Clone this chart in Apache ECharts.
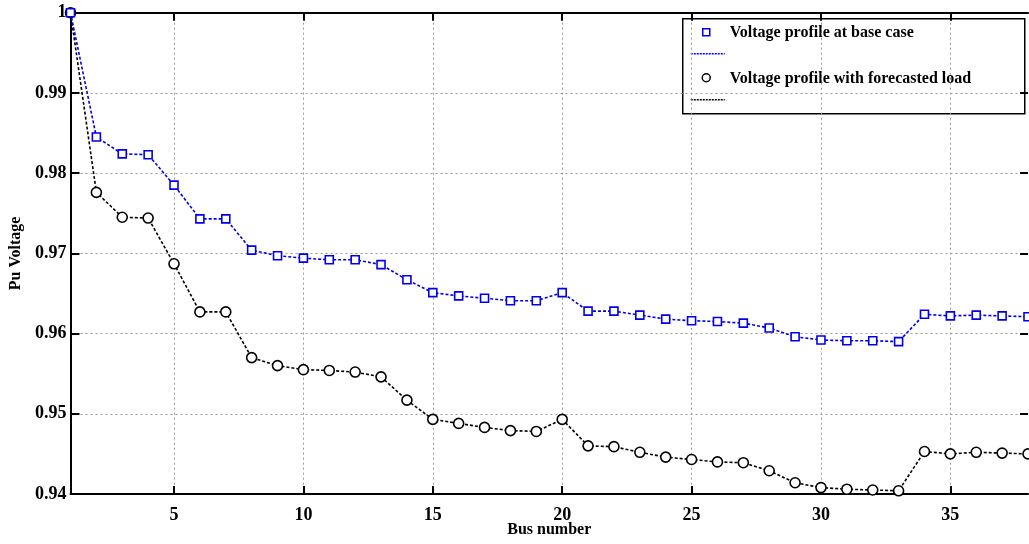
<!DOCTYPE html>
<html>
<head>
<meta charset="utf-8">
<script src="https://cdn.jsdelivr.net/npm/echarts@6/dist/echarts.min.js"></script>
<style>html,body{margin:0;padding:0;background:#fff;}#c{width:1029px;height:544px;}</style>
</head>
<body>
<div id="c"></div>
<script>
const buses = [1,2,3,4,5,6,7,8,9,10,11,12,13,14,15,16,17,18,19,20,21,22,23,24,25,26,27,28,29,30,31,32,33,34,35,36,37,38];
const baseCase = [1.0,0.9845,0.9824,0.9823,0.9785,0.9743,0.9743,0.9704,0.9697,0.9694,0.9692,0.9692,0.9686,0.9667,0.9651,0.9647,0.9644,0.9641,0.9641,0.9651,0.9628,0.9628,0.9623,0.9618,0.9616,0.9615,0.9613,0.9607,0.9596,0.9592,0.9591,0.9591,0.9590,0.9624,0.9622,0.9623,0.9622,0.9621];
const forecastLoad = [1.0,0.9776,0.9745,0.9744,0.9687,0.9627,0.9627,0.9570,0.9560,0.9555,0.9554,0.9552,0.9546,0.9517,0.9493,0.9488,0.9483,0.9479,0.9478,0.9493,0.9460,0.9459,0.9452,0.9446,0.9443,0.9440,0.9439,0.9429,0.9414,0.9408,0.9406,0.9405,0.9404,0.9453,0.9450,0.9452,0.9451,0.9450];
const xTicks = [5,10,15,20,25,30,35];
const seriesNames = ['Voltage profile at base case','Voltage profile with forecasted load'];
const xName = 'Bus number';
const yName = 'Pu Voltage';

const FONT = '"Liberation Serif", "Times New Roman", serif';
const chart = echarts.init(document.getElementById('c'));
const gridLine = {show:true, lineStyle:{color:'#9a9a9a', width:1, type:[2,3]}};
const axisLineStyle = {color:'#000', width:2};
function pts(ys){ return buses.map((b,i)=>[b, ys[i]]); }

chart.setOption({
  animation:false,
  backgroundColor:'#fff',
  grid:{left:70.5, right:1, top:12.7, bottom:50, containLabel:false, outerBoundsMode:'none'},
  xAxis:[{
    type:'value', min:1, max:38, position:'bottom',
    name:xName, nameLocation:'middle', nameGap:28, nameMoveOverlap:false,
    nameTextStyle:{fontFamily:FONT, fontWeight:'bold', fontSize:16, color:'#000'},
    axisLine:{show:true, onZero:false, lineStyle:axisLineStyle},
    axisTick:{show:true, inside:true, length:8, customValues:xTicks, lineStyle:{color:'#000', width:2}},
    axisLabel:{customValues:xTicks, fontFamily:FONT, fontWeight:'bold', fontSize:18, color:'#000', margin:12},
    splitLine:gridLine
  },{
    type:'value', min:1, max:38, position:'top',
    axisLine:{show:true, onZero:false, lineStyle:axisLineStyle},
    axisTick:{show:true, inside:true, length:8, customValues:xTicks, lineStyle:{color:'#000', width:2}},
    axisLabel:{show:false},
    splitLine:{show:false}
  }],
  yAxis:[{
    type:'value', min:0.94, max:1, interval:0.01, position:'left',
    name:yName, nameLocation:'middle', nameGap:45, nameRotate:90,
    nameTextStyle:{fontFamily:FONT, fontWeight:'bold', fontSize:16, color:'#000'},
    axisLine:{show:true, onZero:false, lineStyle:axisLineStyle},
    axisTick:{show:true, inside:true, length:9, lineStyle:{color:'#000', width:2}},
    axisLabel:{fontFamily:FONT, fontWeight:'bold', fontSize:18, color:'#000', margin:4,
      formatter:v=>{ const r=Math.round(v*100)/100; return r===1?'1':r.toFixed(2);} },
    splitLine:gridLine
  },{
    type:'value', min:0.94, max:1, interval:0.01, position:'right',
    axisLine:{show:false},
    axisTick:{show:true, inside:true, length:8, lineStyle:{color:'#000', width:2}},
    axisLabel:{show:false},
    splitLine:{show:false}
  }],
  series:[{
    name:seriesNames[0], type:'line', xAxisIndex:0, yAxisIndex:0,
    data:pts(baseCase),
    symbol:'rect', symbolSize:8,
    itemStyle:{color:'#fff', borderColor:'#0000ee', borderWidth:1.6},
    lineStyle:{color:'#0000ee', width:1.6, type:[3,2]},
    z:3
  },{
    name:seriesNames[1], type:'line', xAxisIndex:0, yAxisIndex:0,
    data:pts(forecastLoad),
    symbol:'circle', symbolSize:10,
    itemStyle:{color:'#fff', borderColor:'#000', borderWidth:1.6},
    lineStyle:{color:'#000', width:1.6, type:[3,2]},
    z:2
  }],
  graphic:[{
    type:'group', left:682, top:18, z:100,
    children:[
      {type:'rect', shape:{x:0, y:0, width:342, height:95}, style:{fill:'#fff', stroke:'#000', lineWidth:1.5}},
      {type:'rect', shape:{x:20, y:10, width:7, height:7}, style:{fill:'#fff', stroke:'#0000ee', lineWidth:1.5}},
      {type:'text', x:47, y:14, style:{text:seriesNames[0], font:'bold 16px '+FONT, fill:'#000', textVerticalAlign:'middle'}},
      {type:'line', shape:{x1:8, y1:35, x2:42, y2:35}, style:{stroke:'#0000ee', lineWidth:1.5, lineDash:[2,1]}},
      {type:'circle', shape:{cx:23.5, cy:59, r:4}, style:{fill:'#fff', stroke:'#000', lineWidth:1.5}},
      {type:'text', x:47, y:60, style:{text:seriesNames[1], font:'bold 16px '+FONT, fill:'#000', textVerticalAlign:'middle'}},
      {type:'line', shape:{x1:8, y1:81, x2:42, y2:81}, style:{stroke:'#000', lineWidth:1.5, lineDash:[2,1]}}
    ]
  }]
});
</script>
</body>
</html>
